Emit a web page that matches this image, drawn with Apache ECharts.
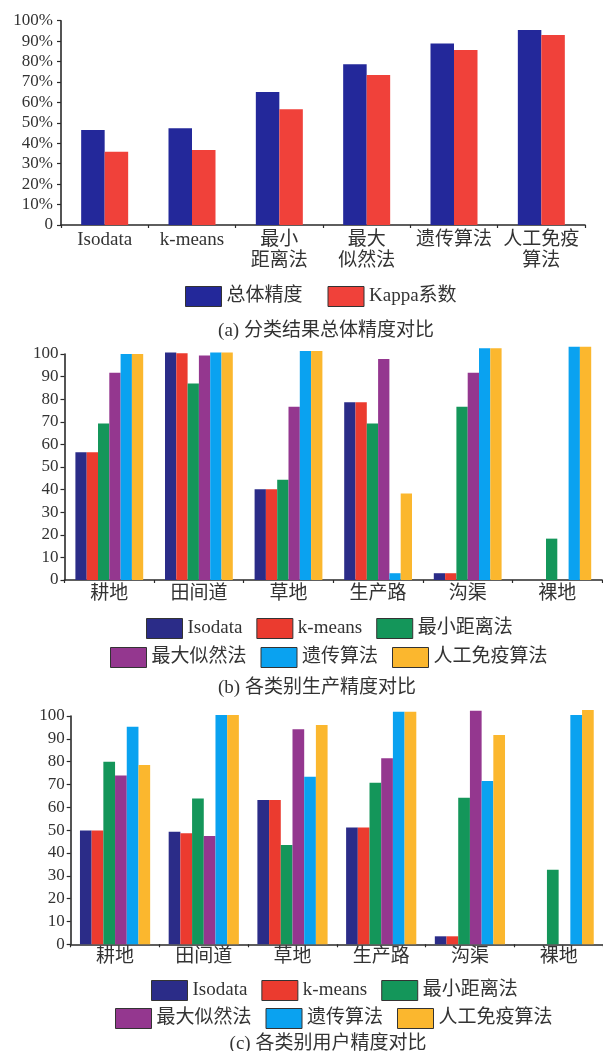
<!DOCTYPE html>
<html>
<head>
<meta charset="utf-8">
<script src="https://cdn.jsdelivr.net/npm/echarts@6/dist/echarts.min.js"></script>
<style>
html,body{margin:0;padding:0;background:#fff;}
#c{width:603px;height:1051px;}
</style>
</head>
<body>
<div id="c"></div>
<script>
// ---- data ----
var catsA = ['Isodata', 'k-means', '最小\n距离法', '最大\n似然法', '遗传算法', '人工免疫\n算法'];
var overallAcc = [46.5, 47.3, 65.1, 78.7, 88.9, 95.4];
var kappaCoef = [35.9, 36.7, 56.6, 73.4, 85.7, 93.0];
var yTicksA = [0, 10, 20, 30, 40, 50, 60, 70, 80, 90, 100];

var catsBC = ['耕地', '田间道', '草地', '生产路', '沟渠', '裸地'];
var methods = ['Isodata', 'k-means', '最小距离法', '最大似然法', '遗传算法', '人工免疫算法'];

// (b) producer accuracy
var prodIsodata = [56.5, 100.7, 40.1, 78.6, 3, 0];
var prodKmeans  = [56.5, 100.3, 40.1, 78.6, 3, 0];
var prodMinDist = [69.2, 87.0, 44.4, 69.2, 76.7, 18.3];
var prodMaxLik  = [91.7, 99.3, 76.7, 97.8, 91.7, 0];
var prodGenetic = [100, 100.7, 101.3, 3, 102.5, 103.2];
var prodImmune  = [100, 100.7, 101.3, 38.3, 102.5, 103.2];

// (c) user accuracy
var userIsodata = [49.8, 49.3, 63.2, 51.2, 3.5, 0];
var userKmeans  = [49.8, 48.6, 63.2, 51.2, 3.5, 0];
var userMinDist = [80.0, 63.9, 43.5, 70.8, 64.2, 32.6];
var userMaxLik  = [73.9, 47.4, 94.2, 81.5, 102.3, 0];
var userGenetic = [95.3, 100.4, 73.4, 101.9, 71.5, 100.4];
var userImmune  = [78.5, 100.4, 96.1, 101.9, 91.7, 102.6];

var captions = ['(a) 分类结果总体精度对比', '(b) 各类别生产精度对比', '(c) 各类别用户精度对比'];

// ---- style ----
var FONT = "'Liberation Serif', 'Noto Sans CJK SC', serif";
var TXT = '#333';
var AX = '#2a2a2a';
var colA = ['#23289a', '#f0413a'];
var colM = ['#2b2c88', '#eb3b2f', '#14965a', '#94378f', '#0aa2f0', '#fbb72e'];

var prodSets = [prodIsodata, prodKmeans, prodMinDist, prodMaxLik, prodGenetic, prodImmune];
var userSets = [userIsodata, userKmeans, userMinDist, userMaxLik, userGenetic, userImmune];

function xAx(idx, cats, margin) {
  return {
    type: 'category', gridIndex: idx, data: cats, boundaryGap: true,
    axisLine: {show: true, lineStyle: {color: AX, width: 1.6}},
    axisTick: {show: true, length: 3, lineStyle: {color: AX, width: 1.2}},
    axisLabel: {color: TXT, fontFamily: FONT, fontSize: 19, lineHeight: 21, margin: margin, interval: 0}
  };
}
function yAx(idx, pct, margin) {
  return {
    type: 'value', gridIndex: idx, min: 0, max: 100, interval: 10,
    axisLine: {show: true, lineStyle: {color: AX, width: 1.6}},
    axisTick: {show: true, length: 4, lineStyle: {color: AX, width: 1.2}},
    splitLine: {show: false},
    axisLabel: {color: TXT, fontFamily: FONT, fontSize: 17, margin: margin,
      formatter: function (v) { return pct ? (v === 0 ? '0' : v + '%') : String(v); }}
  };
}

var series = [
  {name: '总体精度', type: 'bar', xAxisIndex: 0, yAxisIndex: 0, data: overallAcc, barWidth: 23.5, barGap: '0%', clip: false, itemStyle: {color: colA[0]}},
  {name: 'Kappa系数', type: 'bar', xAxisIndex: 0, yAxisIndex: 0, data: kappaCoef, barWidth: 23.5, barGap: '0%', clip: false, itemStyle: {color: colA[1]}}
];
methods.forEach(function (m, i) {
  series.push({name: m, type: 'bar', xAxisIndex: 1, yAxisIndex: 1, data: prodSets[i], barWidth: 11.3, barGap: '0%', clip: false, itemStyle: {color: colM[i]}});
});
methods.forEach(function (m, i) {
  series.push({name: m, type: 'bar', xAxisIndex: 2, yAxisIndex: 2, data: userSets[i], barWidth: 11.7, barGap: '0%', clip: false, itemStyle: {color: colM[i]}});
});

function leg(names, left, top, gap) {
  return {
    data: names, left: left, top: top, orient: 'horizontal', itemGap: gap,
    itemWidth: 36, itemHeight: 20, icon: 'rect', selectedMode: false,
    itemStyle: {borderColor: '#333', borderWidth: 1},
    textStyle: {color: TXT, fontFamily: FONT, fontSize: 19}
  };
}

var option = {
  animation: false,
  backgroundColor: '#fff',
  textStyle: {fontFamily: FONT},
  title: [
    {text: captions[0], left: 321, top: 317, textAlign: 'center', textStyle: {color: TXT, fontFamily: FONT, fontSize: 19, fontWeight: 'normal'}},
    {text: captions[1], left: 312, top: 674, textAlign: 'center', textStyle: {color: TXT, fontFamily: FONT, fontSize: 19, fontWeight: 'normal'}},
    {text: captions[2], left: 323, top: 1030, textAlign: 'center', textStyle: {color: TXT, fontFamily: FONT, fontSize: 19, fontWeight: 'normal'}}
  ],
  grid: [
    {left: 61, top: 20.7, width: 524, height: 204.3},
    {left: 64.5, top: 354, width: 537.6, height: 226},
    {left: 70.7, top: 716, width: 537.6, height: 228.3}
  ],
  xAxis: [xAx(0, catsA, 5), xAx(1, catsBC, 4), xAx(2, catsBC, 2)],
  yAxis: [yAx(0, true, 8), yAx(1, false, 6), yAx(2, false, 6)],
  legend: [
    leg(['总体精度', 'Kappa系数'], 180, 281, 25),
    leg(methods.slice(0, 3), 141, 613, 14),
    leg(methods.slice(3), 105, 642, 14),
    leg(methods.slice(0, 3), 146, 975, 14),
    leg(methods.slice(3), 110, 1003, 14)
  ],
  series: series
};

var chart = echarts.init(document.getElementById('c'), null, {renderer: 'canvas'});
chart.setOption(option);
</script>
</body>
</html>
